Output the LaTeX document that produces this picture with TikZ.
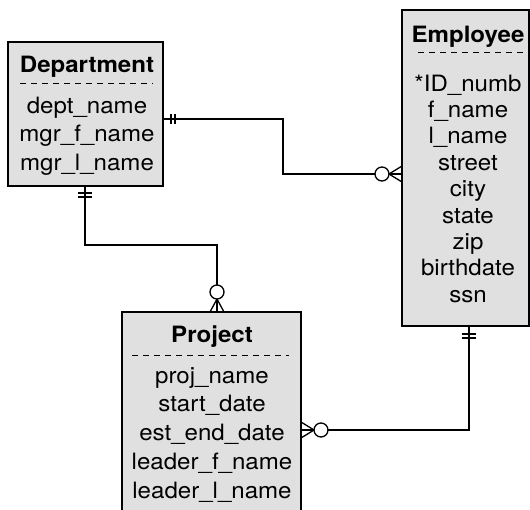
\documentclass[tikz,border=0pt]{standalone}
\usepackage{fontspec}
\setmainfont[FakeStretch=1.07]{TeX Gyre Heros}
\usetikzlibrary{calc}
\definecolor{boxgray}{RGB}{224,224,224}
\tikzset{
  entity/.style={draw=black, fill=boxgray, line width=1.3pt, inner sep=0pt, outer sep=0pt, rectangle},
  attr/.style={anchor=base, inner sep=0pt, font=\fontsize{22.5}{27}\selectfont},
  ttl/.style={anchor=base, inner sep=0pt, font=\fontsize{22.5}{27}\selectfont\bfseries},
  sep/.style={line width=1pt, dash pattern=on 6pt off 5pt},
  conn/.style={line width=1.3pt},
  endmark/.style={line width=1.3pt},
}
\begin{document}
\begin{tikzpicture}[x=1pt,y=-1pt]
\path[use as bounding box, clip] (0,0) rectangle (530,509);
% entities
\node[entity, minimum width=155pt, minimum height=144pt] (dept) at (85.5,114) {};
\node[entity, minimum width=127pt, minimum height=316pt] (emp) at (465.5,168) {};
\node[entity, minimum width=179pt, minimum height=208pt] (proj) at (211.5,416) {};
% Department
\node[ttl] (dtitle) at (87,72) {Department};
\draw[sep] (20,83) -- (153,83);
\foreach \t [count=\i] in {dept\_name, mgr\_f\_name, mgr\_l\_name}
  \node[attr] (d\i) at (87,{113+28.5*(\i-1)}) {\t};
% Employee
\node[ttl] (etitle) at (468,42) {Employee};
\draw[sep] (418,52) -- (527,52);
\foreach \t [count=\i] in {*ID\_numb, f\_name, l\_name, street, city, state, zip, birthdate, ssn}
  \node[attr] (e\i) at (468,{91+26.4*(\i-1)}) {\t};
% Project
\node[ttl] (ptitle) at (212,342) {Project};
\draw[sep] (132,355) -- (289,355);
\foreach \t [count=\i] in {proj\_name, start\_date, est\_end\_date, leader\_f\_name, leader\_l\_name}
  \node[attr] (p\i) at (212,{383+28.75*(\i-1)}) {\t};
% connector Department -- Employee
\coordinate (b1) at (283,119);
\coordinate (b2) at (283,174);
\draw[conn] (dept.east |- b1) -- (b1) -- (b2) -- (emp.west |- b2);
\draw[endmark] ($(dept.east |- b1)+(8,-5)$) -- ++(0,10);
\draw[endmark] ($(dept.east |- b1)+(12,-5)$) -- ++(0,10);
\draw[endmark] ($(emp.west |- b2)+(-13,0)$) -- ($(emp.west |- b2)+(0,-8)$);
\draw[endmark] ($(emp.west |- b2)+(-13,0)$) -- ($(emp.west |- b2)+(0,8)$);
\draw[endmark, fill=white] ($(emp.west |- b2)+(-20,0)$) circle[radius=7pt];
% connector Department -- Project
\coordinate (c1) at (85,245);
\coordinate (c2) at (217,245);
\draw[conn] (dept.south -| c1) -- (c1) -- (c2) -- (proj.north -| c2);
\draw[endmark] ($(dept.south -| c1)+(-7,7)$) -- ++(14,0);
\draw[endmark] ($(dept.south -| c1)+(-7,11)$) -- ++(14,0);
\draw[endmark] ($(proj.north -| c2)+(0,-13)$) -- ($(proj.north -| c2)+(-7,0)$);
\draw[endmark] ($(proj.north -| c2)+(0,-13)$) -- ($(proj.north -| c2)+(7,0)$);
\draw[endmark, fill=white] ($(proj.north -| c2)+(0,-20)$) circle[radius=7pt];
% connector Employee -- Project
\coordinate (f1) at (469,430);
\draw[conn] (emp.south -| f1) -- (f1) -- (proj.east |- f1);
\draw[endmark] ($(emp.south -| f1)+(-7,8)$) -- ++(14,0);
\draw[endmark] ($(emp.south -| f1)+(-7,12)$) -- ++(14,0);
\draw[endmark] ($(proj.east |- f1)+(13,0)$) -- ($(proj.east |- f1)+(0,-8)$);
\draw[endmark] ($(proj.east |- f1)+(13,0)$) -- ($(proj.east |- f1)+(0,8)$);
\draw[endmark, fill=white] ($(proj.east |- f1)+(20,0)$) circle[radius=7pt];
\end{tikzpicture}
\end{document}
